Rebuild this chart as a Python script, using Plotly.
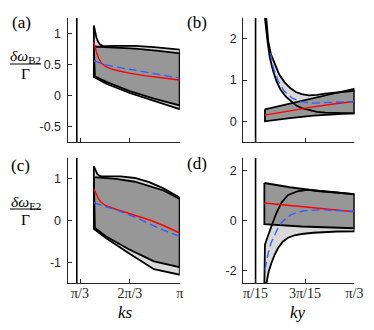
import math
import plotly.graph_objects as go

PI = math.pi

# ---------------- Panel (a): ks axis ----------------
A_LT_X = [1.338, 1.36, 1.39, 1.43, 1.47, 1.52, 1.60, 1.80, 2.20, 2.60, 2.90, PI]
A_LT_Y = [1.13, 1.04, 0.94, 0.86, 0.82, 0.80, 0.795, 0.80, 0.80, 0.78, 0.76, 0.74]
A_LB_X = [1.338, 1.60, 2.09, 2.60, PI]
A_LB_Y = [0.30, 0.19, 0.04, -0.09, -0.22]
A_DT_X = [1.338, 1.80, 2.20, 2.70, PI]
A_DT_Y = [0.79, 0.775, 0.755, 0.72, 0.68]
A_DB_X = [1.36, 1.60, 2.09, 2.60, PI]
A_DB_Y = [0.31, 0.22, 0.07, -0.05, -0.16]
A_RED_X = [1.338, 1.37, 1.40, 1.44, 1.50, 1.58, 1.70, 1.85, 2.08, 2.40, 2.80, PI]
A_RED_Y = [0.86, 0.76, 0.68, 0.60, 0.52, 0.47, 0.43, 0.40, 0.36, 0.32, 0.28, 0.25]
A_BLUE_X = [1.338, 1.56, 1.94, 2.20, 2.70, PI]
A_BLUE_Y = [0.56, 0.50, 0.44, 0.41, 0.34, 0.28]

# ---------------- Panel (b): ky axis ----------------
B_LT_X = [0.300, 0.317, 0.34, 0.372, 0.41, 0.454, 0.50, 0.551, 0.60, 0.661, 0.73, 0.80, 0.90, PI / 3]
B_LT_Y = [2.5, 1.94, 1.62, 1.38, 1.13, 0.95, 0.81, 0.71, 0.66, 0.63, 0.64, 0.67, 0.70, 0.74]
B_LB_X = [0.289, 0.31, 0.33, 0.36, 0.386, 0.42, 0.468, 0.51, 0.551, 0.60, 0.661, 0.73, 0.80, 0.90, PI / 3]
B_LB_Y = [2.5, 1.95, 1.54, 1.20, 0.98, 0.77, 0.59, 0.48, 0.39, 0.32, 0.27, 0.23, 0.21, 0.20, 0.19]
B_DT_X = [0.289, 0.50, 0.70, 0.90, PI / 3]
B_DT_Y = [0.29, 0.43, 0.56, 0.69, 0.79]
B_DB_X = [0.289, 0.50, 0.70, 0.90, PI / 3]
B_DB_Y = [0.0, 0.08, 0.14, 0.18, 0.20]
B_RED_X = [0.289, 0.50, 0.70, 0.90, PI / 3]
B_RED_Y = [0.15, 0.26, 0.35, 0.43, 0.48]
B_BLUE_X = [0.335, 0.36, 0.40, 0.45, 0.52, 0.60, 0.70, 0.85, PI / 3]
B_BLUE_Y = [1.65, 1.30, 0.98, 0.74, 0.56, 0.47, 0.44, 0.45, 0.48]

# ---------------- Panel (c): ks axis ----------------
C_LT_X = [1.338, 1.37, 1.41, 1.46, 1.50, 1.60, 1.90, 2.20, 2.50, 2.80, PI]
C_LT_Y = [1.30, 1.20, 1.12, 1.07, 1.06, 1.06, 1.06, 1.02, 0.92, 0.77, 0.55]
C_LB_X = [1.338, 1.59, 2.09, 2.60, PI]
C_LB_Y = [-0.20, -0.42, -0.80, -1.17, -1.30]
C_DT_X = [1.338, 1.80, 2.20, 2.54, 2.80, PI]
C_DT_Y = [1.04, 1.00, 0.93, 0.82, 0.72, 0.52]
C_DB_X = [1.36, 1.59, 2.09, 2.60, PI]
C_DB_Y = [-0.18, -0.38, -0.70, -0.98, -1.12]
C_RED_X = [1.338, 1.37, 1.40, 1.44, 1.48, 1.53, 1.58, 1.80, 2.06, 2.30, 2.54, 2.80, PI]
C_RED_Y = [0.76, 0.68, 0.60, 0.51, 0.45, 0.40, 0.36, 0.27, 0.17, 0.09, 0.0, -0.12, -0.30]
C_BLUE_X = [1.338, 1.53, 1.80, 2.06, 2.30, 2.54, 2.80, PI]
C_BLUE_Y = [0.43, 0.35, 0.26, 0.15, 0.03, -0.10, -0.23, -0.38]

# ---------------- Panel (d): ky axis ----------------
D_LT_X = [0.284, 0.289, 0.30, 0.317, 0.344, 0.386, 0.427, 0.482, 0.565, 0.648, 0.757, 0.90, PI / 3]
D_LT_Y = [-2.5, -0.97, -0.81, -0.57, -0.23, 0.30, 0.70, 1.01, 1.17, 1.23, 1.19, 1.12, 1.05]
D_LB_X = [0.302, 0.32, 0.344, 0.37, 0.40, 0.44, 0.48, 0.54, 0.60, 0.70, 0.80, 0.90, PI / 3]
D_LB_Y = [-2.5, -2.05, -1.70, -1.38, -1.10, -0.85, -0.70, -0.59, -0.54, -0.49, -0.46, -0.44, -0.43]
D_DT_X = [0.284, 0.50, 0.757, PI / 3]
D_DT_Y = [1.50, 1.33, 1.17, 1.06]
D_DB_X = [0.284, 0.60, 0.80, PI / 3]
D_DB_Y = [-0.15, -0.24, -0.28, -0.31]
D_RED_X = [0.284, 0.50, 0.75, PI / 3]
D_RED_Y = [0.70, 0.60, 0.49, 0.35]
D_BLUE_X = [0.289, 0.30, 0.317, 0.34, 0.372, 0.40, 0.427, 0.47, 0.51, 0.56, 0.62, 0.757, 0.90, PI / 3]
D_BLUE_Y = [-1.97, -1.70, -1.30, -0.90, -0.57, -0.30, -0.10, 0.10, 0.23, 0.32, 0.39, 0.43, 0.40, 0.37]

# vertical reference lines
VLINE_KS = 0.98
VLINE_KY = PI / 15

# axes ticks
KS_TICKS = [PI / 3, 2 * PI / 3, PI]
KS_LABELS = ["π/3", "2π/3", "π"]
KY_TICKS = [PI / 15, 3 * PI / 15, PI / 3]
KY_LABELS = ["π/15", "3π/15", "π/3"]
A_YT = [-0.5, 0, 0.5, 1]
A_YL = ["-0.5", "0", "0.5", "1"]
B_YT = [0, 1, 2]
B_YL = ["0", "1", "2"]
C_YT = [-1, 0, 1]
C_YL = ["-1", "0", "1"]
D_YT = [-2, 0, 2]
D_YL = ["-2", "0", "2"]

KS_RANGE = [PI / 4, PI]
KY_RANGE = [PI / 30, PI / 3]
A_YR = [-0.75, 1.25]
B_YR = [-0.5, 2.5]
C_YR = [-1.5, 1.5]
D_YR = [-2.5, 2.5]

LIGHT = "#dadada"
DARK = "#979797"
LINE_BLACK = "#000000"
RED = "#ff0000"
BLUE = "#2f5cff"

W, H = 374, 330
fig = go.Figure()


def poly(tx, ty, bx, by):
    return list(tx) + list(reversed(bx)) + [tx[0]], list(ty) + list(reversed(by)) + [ty[0]]


def add_panel(n, lt, lb, dt, db, red, blue, vline, yr):
    xa = "x" if n == 1 else f"x{n}"
    ya = "y" if n == 1 else f"y{n}"
    lx, ly = poly(lt[0], lt[1], lb[0], lb[1])
    dx, dy = poly(dt[0], dt[1], db[0], db[1])
    fig.add_trace(go.Scatter(x=lx, y=ly, fill="toself", fillcolor=LIGHT, mode="lines",
                             line=dict(width=0, color=LIGHT), xaxis=xa, yaxis=ya, hoverinfo="skip"))
    fig.add_trace(go.Scatter(x=dx, y=dy, fill="toself", fillcolor=DARK, mode="lines",
                             line=dict(width=1.8, color=LINE_BLACK), xaxis=xa, yaxis=ya, hoverinfo="skip"))
    fig.add_trace(go.Scatter(x=lx, y=ly, mode="lines",
                             line=dict(width=1.8, color=LINE_BLACK), xaxis=xa, yaxis=ya, hoverinfo="skip"))
    fig.add_trace(go.Scatter(x=red[0], y=red[1], mode="lines",
                             line=dict(width=1.4, color=RED), xaxis=xa, yaxis=ya, hoverinfo="skip"))
    fig.add_trace(go.Scatter(x=blue[0], y=blue[1], mode="lines",
                             line=dict(width=1.3, color=BLUE, dash="8px,4px"), xaxis=xa, yaxis=ya, hoverinfo="skip"))
    fig.add_trace(go.Scatter(x=[vline, vline], y=yr, mode="lines",
                             line=dict(width=1.6, color=LINE_BLACK), xaxis=xa, yaxis=ya, hoverinfo="skip"))


add_panel(1, (A_LT_X, A_LT_Y), (A_LB_X, A_LB_Y), (A_DT_X, A_DT_Y), (A_DB_X, A_DB_Y),
          (A_RED_X, A_RED_Y), (A_BLUE_X, A_BLUE_Y), VLINE_KS, A_YR)
add_panel(2, (B_LT_X, B_LT_Y), (B_LB_X, B_LB_Y), (B_DT_X, B_DT_Y), (B_DB_X, B_DB_Y),
          (B_RED_X, B_RED_Y), (B_BLUE_X, B_BLUE_Y), VLINE_KY, B_YR)
add_panel(3, (C_LT_X, C_LT_Y), (C_LB_X, C_LB_Y), (C_DT_X, C_DT_Y), (C_DB_X, C_DB_Y),
          (C_RED_X, C_RED_Y), (C_BLUE_X, C_BLUE_Y), VLINE_KS, C_YR)
add_panel(4, (D_LT_X, D_LT_Y), (D_LB_X, D_LB_Y), (D_DT_X, D_DT_Y), (D_DB_X, D_DB_Y),
          (D_RED_X, D_RED_Y), (D_BLUE_X, D_BLUE_Y), VLINE_KY, D_YR)

AX_COLOR = "#262626"
SANS = "Liberation Sans, Arial, sans-serif"
SERIF = "Liberation Serif, Times New Roman, serif"


def xax(domain, rng, tv, tt, show):
    return dict(domain=domain, range=rng, showline=True, linecolor=AX_COLOR, linewidth=1,
                mirror=False, showgrid=False, zeroline=False, ticks="inside", ticklen=4,
                tickcolor=AX_COLOR, tickvals=tv, ticktext=tt, showticklabels=show,
                tickfont=dict(family=SERIF, size=14, color="#262626"), ticklabelstandoff=-3)


def yax(domain, rng, tv, tt):
    return dict(domain=domain, range=rng, showline=True, linecolor=AX_COLOR, linewidth=1,
                mirror=False, showgrid=False, zeroline=False, ticks="inside", ticklen=4,
                tickcolor=AX_COLOR, tickvals=tv, ticktext=tt,
                tickfont=dict(family=SANS, size=12.5, color="#262626"), ticklabelstandoff=3)


XL = [61 / W, 176 / W]
XR = [241 / W, 355 / W]
YT = [1 - 134 / H, 1 - 10 / H]
YB = [1 - 275 / H, 1 - 150 / H]

fig.update_layout(
    width=W, height=H, margin=dict(l=0, r=0, t=0, b=0),
    paper_bgcolor="white", plot_bgcolor="white", showlegend=False,
    xaxis=dict(xax(XL, KS_RANGE, KS_TICKS, KS_LABELS, False), anchor="y"),
    yaxis=dict(yax(YT, A_YR, A_YT, A_YL), anchor="x"),
    xaxis2=dict(xax(XR, KY_RANGE, KY_TICKS, KY_LABELS, False), anchor="y2"),
    yaxis2=dict(yax(YT, B_YR, B_YT, B_YL), anchor="x2"),
    xaxis3=dict(xax(XL, KS_RANGE, KS_TICKS, KS_LABELS, True), anchor="y3"),
    yaxis3=dict(yax(YB, C_YR, C_YT, C_YL), anchor="x3"),
    xaxis4=dict(xax(XR, KY_RANGE, KY_TICKS, KY_LABELS, True), anchor="y4"),
    yaxis4=dict(yax(YB, D_YR, D_YT, D_YL), anchor="x4"),
)

ann = []
for lbl, px, py in [("(a)", 14, 15), ("(b)", 194, 15), ("(c)", 13, 157), ("(d)", 194, 155)]:
    ann.append(dict(text=lbl, x=px / W, y=1 - py / H, xref="paper", yref="paper", showarrow=False,
                    font=dict(family=SERIF, size=17, color="black"), xanchor="center", yanchor="middle"))
ann.append(dict(text="<i>ks</i>", x=120 / W, y=1 - 304 / H, xref="paper", yref="paper", showarrow=False,
                font=dict(family=SERIF, size=17, color="black"), xanchor="center", yanchor="middle"))
ann.append(dict(text="<i>ky</i>", x=297 / W, y=1 - 304 / H, xref="paper", yref="paper", showarrow=False,
                font=dict(family=SERIF, size=17, color="black"), xanchor="center", yanchor="middle"))
# y-axis fraction labels
for sub, ynum, ybar, yden in [("B2", 49, 56, 66), ("E2", 194, 201, 211)]:
    ann.append(dict(text=f"<i>δω</i><sub>{sub}</sub>", x=18 / W, y=1 - ynum / H, xref="paper", yref="paper",
                    showarrow=False, font=dict(family=SERIF, size=15.5, color="black"),
                    xanchor="center", yanchor="middle"))
    ann.append(dict(text="Γ", x=18 / W, y=1 - yden / H, xref="paper", yref="paper",
                    showarrow=False, font=dict(family=SERIF, size=15.5, color="black"),
                    xanchor="center", yanchor="middle"))
    fig.add_shape(type="line", xref="paper", yref="paper", x0=2 / W, x1=34 / W,
                  y0=1 - ybar / H, y1=1 - ybar / H, line=dict(color="black", width=1))
fig.update_layout(annotations=ann)

fig.write_html("out.html")
